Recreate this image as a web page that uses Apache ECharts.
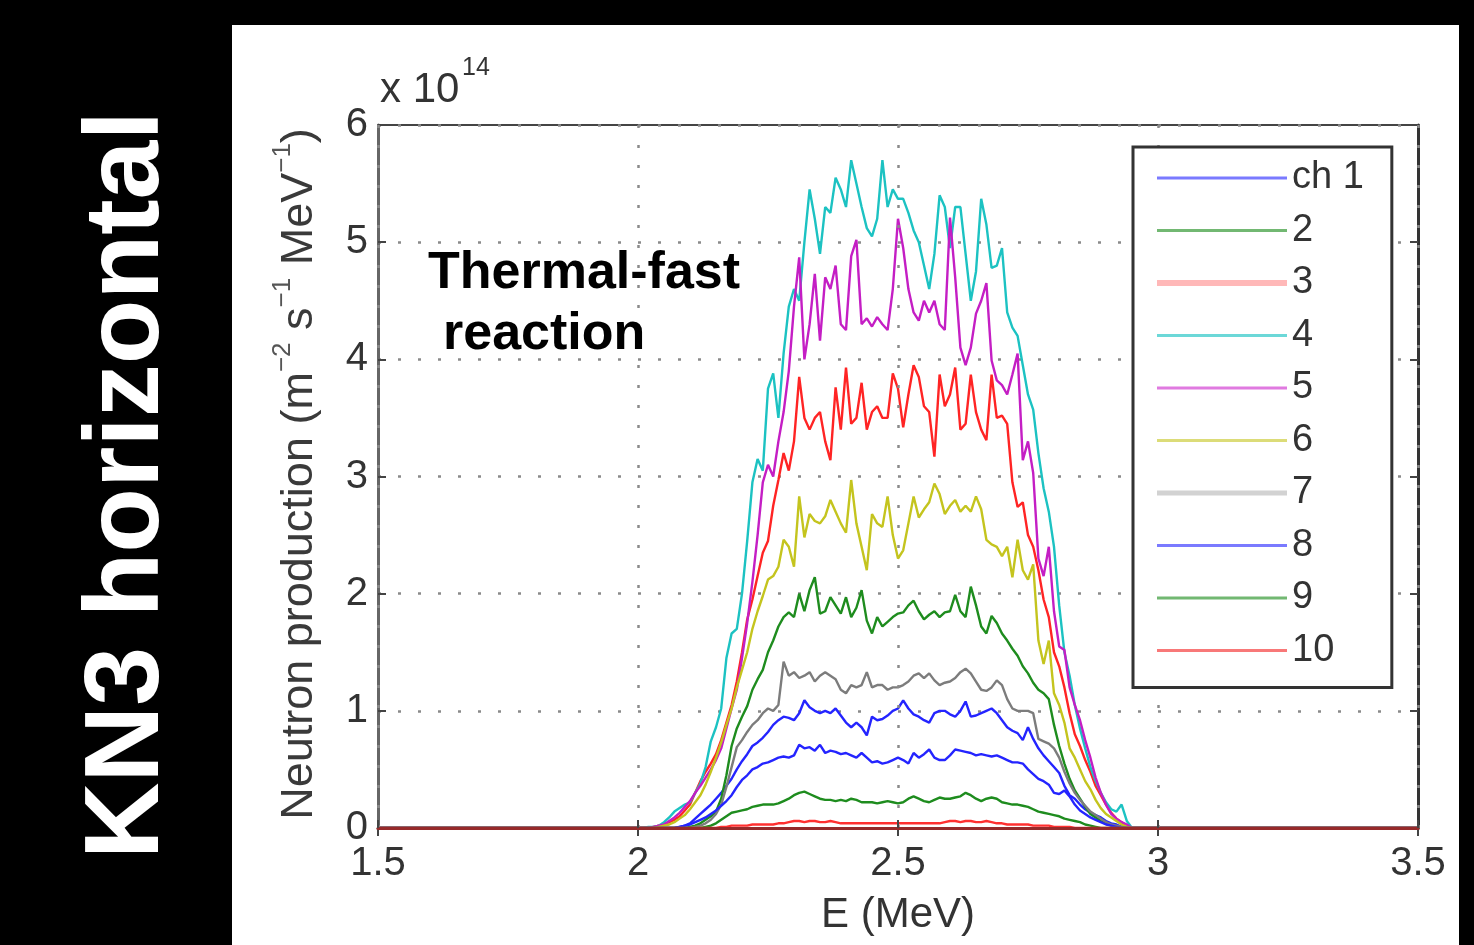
<!DOCTYPE html>
<html>
<head>
<meta charset="utf-8">
<script src="https://cdn.jsdelivr.net/npm/echarts@6/dist/echarts.min.js"></script>
<style>
html,body{margin:0;padding:0;background:#000;}
#chart{width:1474px;height:945px;}
</style>
</head>
<body>
<div id="chart"></div>
<script>
// Energy grid (MeV)
var energies = [1.5,
 2.00,2.01,2.02,2.03,2.04,2.05,2.06,2.07,2.08,2.09,
 2.10,2.11,2.12,2.13,2.14,2.15,2.16,2.17,2.18,2.19,
 2.20,2.21,2.22,2.23,2.24,2.25,2.26,2.27,2.28,2.29,
 2.30,2.31,2.32,2.33,2.34,2.35,2.36,2.37,2.38,2.39,
 2.40,2.41,2.42,2.43,2.44,2.45,2.46,2.47,2.48,2.49,
 2.50,2.51,2.52,2.53,2.54,2.55,2.56,2.57,2.58,2.59,
 2.60,2.61,2.62,2.63,2.64,2.65,2.66,2.67,2.68,2.69,
 2.70,2.71,2.72,2.73,2.74,2.75,2.76,2.77,2.78,2.79,
 2.80,2.81,2.82,2.83,2.84,2.85,2.86,2.87,2.88,2.89,
 2.90,2.91,2.92,2.93,2.94,2.95,
 3.5];

// Neutron production (x 1e14 m^-2 s^-1 MeV^-1), one array per channel
var ch1 = [0,
 0,0,0,0,0,0,0,0,0.01,0.02,
 0.04,0.08,0.12,0.16,0.2,0.25,0.3,0.36,0.42,0.5,
 0.57,0.63,0.7,0.73,0.77,0.82,0.88,0.92,0.95,0.94,
 0.92,0.98,1.09,1.03,1.0,0.98,1.0,0.98,1.02,0.96,
 0.9,0.86,0.9,0.86,0.79,0.95,0.92,0.93,0.96,1.0,
 1.02,1.09,1.02,0.97,0.95,0.92,0.9,0.98,1.0,1.0,
 0.97,0.95,1.0,1.08,0.95,0.96,0.98,1.0,1.02,0.98,
 0.92,0.86,0.83,0.81,0.75,0.86,0.76,0.68,0.62,0.57,
 0.52,0.47,0.36,0.28,0.25,0.2,0.16,0.13,0.11,0.09,
 0.06,0.04,0.03,0.01,0,0,
 0];
var ch2 = [0,
 0,0,0,0,0,0,0,0,0,0,
 0.01,0.02,0.04,0.07,0.1,0.14,0.25,0.45,0.7,0.85,
 0.95,1.04,1.18,1.27,1.35,1.5,1.6,1.72,1.8,1.84,
 1.8,2.0,1.85,2.03,2.14,1.83,1.85,1.97,1.9,1.83,
 1.97,1.8,1.88,2.03,1.77,1.66,1.8,1.72,1.76,1.8,
 1.83,1.84,1.9,1.94,1.85,1.78,1.82,1.85,1.8,1.84,
 1.85,1.99,1.85,1.8,2.06,1.9,1.72,1.66,1.81,1.75,
 1.66,1.6,1.53,1.47,1.38,1.32,1.24,1.18,1.15,1.1,
 0.88,0.7,0.55,0.42,0.32,0.25,0.18,0.12,0.09,0.06,
 0.04,0.02,0.01,0,0,0,
 0];
var ch3 = [0,
 0,0,0,0.01,0.02,0.03,0.05,0.07,0.1,0.15,
 0.2,0.3,0.4,0.48,0.55,0.63,0.75,0.9,1.05,1.25,
 1.5,1.78,1.95,2.15,2.35,2.45,2.75,2.97,3.2,3.05,
 3.3,3.85,3.5,3.4,3.5,3.55,3.3,3.14,3.76,3.4,
 3.93,3.45,3.5,3.8,3.4,3.55,3.6,3.5,3.5,3.88,
 3.75,3.42,3.7,3.95,3.85,3.6,3.55,3.17,3.87,3.6,
 3.7,3.93,3.4,3.45,3.87,3.55,3.4,3.31,3.87,3.5,
 3.52,3.45,2.95,2.74,2.78,2.5,2.4,2.2,1.95,1.8,
 1.5,1.38,1.2,0.98,0.8,0.7,0.58,0.48,0.36,0.28,
 0.2,0.13,0.08,0.05,0.02,0,
 0];
var ch4 = [0,
 0,0,0.01,0.01,0.02,0.05,0.09,0.14,0.17,0.2,
 0.22,0.3,0.38,0.52,0.74,0.86,1.02,1.45,1.66,1.7,
 2.0,2.45,2.95,3.15,3.05,3.75,3.88,3.5,4.05,4.45,
 4.6,4.5,5.0,5.45,5.2,4.9,5.3,5.25,5.55,5.45,
 5.3,5.7,5.5,5.3,5.12,5.05,5.2,5.7,5.3,5.45,
 5.37,5.37,5.25,5.1,5.0,4.8,4.6,4.9,5.4,5.3,
 4.95,5.3,5.3,4.9,4.5,4.75,5.37,5.15,4.78,4.8,
 4.95,4.4,4.27,4.2,3.95,3.7,3.57,3.2,2.9,2.7,
 2.4,1.9,1.5,1.3,1.05,0.85,0.68,0.52,0.4,0.3,
 0.22,0.16,0.14,0.2,0.06,0,
 0];
var ch5 = [0,
 0,0,0,0.01,0.02,0.03,0.06,0.09,0.13,0.18,
 0.23,0.3,0.36,0.43,0.5,0.58,0.68,0.85,1.02,1.18,
 1.45,1.75,2.1,2.5,2.95,3.1,3.0,3.3,3.55,3.9,
 4.45,4.87,4.0,4.3,4.73,4.16,4.7,4.6,4.8,4.3,
 4.25,4.88,5.02,4.3,4.35,4.28,4.36,4.3,4.25,4.6,
 5.2,4.95,4.6,4.4,4.33,4.5,4.4,4.5,4.3,4.25,
 5.21,4.7,4.1,3.95,4.1,4.39,4.5,4.65,3.99,3.82,
 3.78,3.7,3.87,4.05,3.14,3.3,3.03,2.3,2.15,2.4,
 1.85,1.55,1.52,1.2,1.05,0.92,0.75,0.6,0.43,0.3,
 0.2,0.12,0.08,0.05,0.03,0,
 0];
var ch6 = [0,
 0,0,0,0,0.01,0.02,0.03,0.05,0.08,0.11,
 0.16,0.22,0.28,0.37,0.48,0.6,0.73,0.88,1.02,1.2,
 1.35,1.5,1.7,1.85,1.98,2.12,2.15,2.23,2.46,2.4,
 2.23,2.83,2.48,2.68,2.62,2.6,2.66,2.8,2.7,2.6,
 2.52,2.97,2.6,2.4,2.2,2.68,2.6,2.57,2.83,2.5,
 2.3,2.37,2.6,2.83,2.65,2.72,2.78,2.94,2.85,2.68,
 2.75,2.8,2.7,2.75,2.7,2.83,2.72,2.46,2.42,2.4,
 2.32,2.4,2.14,2.46,2.2,2.12,2.25,1.6,1.4,1.6,
 1.15,1.05,0.9,0.68,0.6,0.5,0.4,0.33,0.24,0.17,
 0.12,0.09,0.06,0.03,0.01,0,
 0];
var ch7 = [0,
 0,0,0,0,0,0,0,0,0,0,
 0,0.01,0.02,0.04,0.07,0.12,0.2,0.35,0.52,0.69,
 0.75,0.82,0.88,0.92,0.98,1.02,1.0,1.05,1.42,1.3,
 1.33,1.28,1.3,1.33,1.25,1.3,1.33,1.3,1.27,1.18,
 1.15,1.22,1.2,1.22,1.33,1.2,1.22,1.22,1.18,1.2,
 1.2,1.22,1.25,1.3,1.32,1.28,1.32,1.26,1.22,1.24,
 1.25,1.28,1.33,1.36,1.32,1.25,1.18,1.17,1.2,1.26,
 1.22,1.1,1.02,1.0,1.0,1.0,0.98,0.76,0.74,0.72,
 0.68,0.6,0.48,0.38,0.3,0.24,0.19,0.14,0.11,0.08,
 0.05,0.03,0.02,0.01,0,0,
 0];
var ch8 = [0,
 0,0,0,0,0,0,0,0,0.01,0.02,
 0.03,0.05,0.07,0.09,0.12,0.15,0.19,0.23,0.28,0.35,
 0.41,0.45,0.5,0.52,0.55,0.56,0.58,0.6,0.61,0.6,
 0.62,0.71,0.68,0.69,0.66,0.71,0.64,0.66,0.65,0.63,
 0.64,0.62,0.6,0.64,0.6,0.56,0.57,0.55,0.56,0.58,
 0.6,0.58,0.55,0.64,0.6,0.63,0.67,0.6,0.58,0.58,
 0.62,0.67,0.66,0.65,0.64,0.62,0.63,0.62,0.61,0.62,
 0.6,0.58,0.56,0.56,0.55,0.5,0.46,0.42,0.4,0.37,
 0.3,0.29,0.32,0.27,0.2,0.15,0.12,0.09,0.07,0.05,
 0.03,0.02,0.01,0,0,0,
 0];
var ch9 = [0,
 0,0,0,0,0,0,0,0,0,0,
 0,0,0,0.01,0.02,0.04,0.07,0.1,0.13,0.14,
 0.15,0.16,0.18,0.19,0.2,0.2,0.2,0.21,0.23,0.25,
 0.28,0.3,0.31,0.29,0.27,0.25,0.24,0.24,0.23,0.24,
 0.23,0.25,0.24,0.22,0.22,0.22,0.21,0.22,0.23,0.22,
 0.21,0.22,0.25,0.27,0.25,0.23,0.22,0.24,0.26,0.25,
 0.25,0.26,0.27,0.3,0.28,0.25,0.23,0.25,0.26,0.25,
 0.22,0.21,0.2,0.2,0.19,0.18,0.16,0.14,0.13,0.12,
 0.11,0.1,0.08,0.07,0.06,0.05,0.03,0.02,0.01,0,
 0,0,0,0,0,0,
 0];
var ch10 = [0,
 0,0,0,0,0,0,0,0,0,0,
 0,0,0,0,0,0,0.01,0.01,0.02,0.02,
 0.02,0.02,0.03,0.03,0.03,0.03,0.03,0.04,0.04,0.05,
 0.06,0.06,0.05,0.06,0.06,0.05,0.05,0.06,0.05,0.04,
 0.04,0.04,0.04,0.04,0.04,0.04,0.04,0.04,0.04,0.04,
 0.04,0.04,0.04,0.04,0.04,0.04,0.04,0.04,0.04,0.05,
 0.06,0.06,0.05,0.06,0.06,0.05,0.05,0.06,0.05,0.04,
 0.04,0.03,0.03,0.03,0.03,0.03,0.02,0.02,0.02,0.02,
 0.01,0.01,0.01,0.01,0,0,0,0,0,0,
 0,0,0,0,0,0,
 0];

var channelNames = ['ch 1','2','3','4','5','6','7','8','9','10'];
var channelData = [ch1,ch2,ch3,ch4,ch5,ch6,ch7,ch8,ch9,ch10];
var lineColors = ['#2424ff','#1e8c1e','#ff2424','#1cc2c2','#c41ec4','#c4c41e','#7c7c7c','#2424ff','#1e8c1e','#ff3030'];
var legendColors = ['#7a7aff','#72b872','#ffb8b8','#6cd8d8','#e07ae0','#dcdc78','#d2d2d2','#7a7aff','#72b872','#f87878'];
var legendWidths = [3,3,6,3,3,3,5,3,3,3];
var xTicks = {min:1.5, max:3.5, step:0.5};
var yTicks = {min:0, max:6, step:1};

var FONT = 'Liberation Sans, Arial, sans-serif';

var series = channelNames.map(function(n, k){
  return {
    name: n, type: 'line', symbol: 'none', showSymbol: false, animation: false,
    lineStyle: {color: lineColors[k], width: 2.4},
    itemStyle: {color: lineColors[k]},
    data: energies.map(function(e, i){ return [e, channelData[k][i]]; }),
    z: 2
  };
});

var dotted = {color: '#8a8a8a', width: 2.5, type: [3, 17]};

var chart = echarts.init(document.getElementById('chart'), null, {renderer: 'canvas'});
chart.setOption({
  backgroundColor: '#000',
  animation: false,
  graphic: [
    {type: 'rect', z: -10, shape: {x: 232, y: 25, width: 1227, height: 920}, style: {fill: '#fff'}},
    {type: 'text', z: 10, x: 129, y: 485, rotation: Math.PI / 2,
     style: {text: 'KN3 horizontal', fill: '#fff', fontSize: 106, fontWeight: 'bold', fontFamily: FONT, align: 'center', verticalAlign: 'middle'}},
    {type: 'text', z: 10, x: 296, y: 474, rotation: Math.PI / 2,
     style: {
       text: '{n|Neutron production (m}{s|\u22122}{n| s}{s|\u22121}{n| MeV}{s|\u22121}{n|)}',
       align: 'center', verticalAlign: 'middle',
       rich: {
         n: {fontSize: 45, fontFamily: FONT, fill: '#3a3a3a', lineHeight: 52, verticalAlign: 'bottom'},
         s: {fontSize: 26, fontFamily: FONT, fill: '#555', lineHeight: 52, verticalAlign: 'top'}
       }
     }},
    {type: 'text', z: 10, x: 380, y: 90,
     style: {text: 'x 10', fill: '#333', fontSize: 42, fontFamily: FONT, align: 'left', verticalAlign: 'middle'}},
    {type: 'text', z: 10, x: 462, y: 68,
     style: {text: '14', fill: '#333', fontSize: 25, fontFamily: FONT, align: 'left', verticalAlign: 'middle'}},
    {type: 'text', z: 100, x: 428, y: 274,
     style: {text: 'Thermal-fast', fill: '#000', fontSize: 52, fontWeight: 'bold', fontFamily: FONT, align: 'left', verticalAlign: 'middle'}},
    {type: 'text', z: 100, x: 443, y: 335,
     style: {text: 'reaction', fill: '#000', fontSize: 52, fontWeight: 'bold', fontFamily: FONT, align: 'left', verticalAlign: 'middle'}}
  ],
  grid: {left: 378, right: 56, top: 125, bottom: 117, show: true, borderColor: '#444', borderWidth: 2, backgroundColor: 'transparent'},
  legend: {
    orient: 'vertical', left: 1133, top: 147, z: 30,
    padding: [11, 28, 17, 21],
    itemWidth: 130, itemHeight: 14, itemGap: 12.5, itemTextGap: 18,
    backgroundColor: '#fff', borderColor: '#333', borderWidth: 3, borderRadius: 0,
    textStyle: {fontSize: 38, fontFamily: FONT, color: '#333', lineHeight: 40},
    selectedMode: false,
    data: channelNames.map(function(n, k){
      return {name: n,
        lineStyle: {color: legendColors[k], width: legendWidths[k]},
        itemStyle: {color: 'rgba(0,0,0,0)', borderWidth: 0, opacity: 0}};
    })
  },
  xAxis: [{
    type: 'value', min: xTicks.min, max: xTicks.max, interval: xTicks.step, z: 5,
    name: 'E (MeV)', nameLocation: 'middle', nameGap: 66,
    nameTextStyle: {fontSize: 42, fontFamily: FONT, color: '#333'},
    axisLine: {show: true, onZero: false, lineStyle: {color: '#962a2a', width: 3}},
    axisTick: {show: true, inside: true, length: 8, lineStyle: {color: '#444', width: 2}},
    axisLabel: {fontSize: 40, fontFamily: FONT, color: '#333', margin: 16},
    splitLine: {show: true, lineStyle: dotted}
  }, {
    type: 'value', position: 'top', min: xTicks.min, max: xTicks.max, interval: xTicks.step,
    axisLine: {show: true, lineStyle: {color: '#808080', width: 3}},
    axisTick: {show: true, inside: true, length: 8, lineStyle: {color: '#444', width: 2}},
    axisLabel: {show: false}, splitLine: {show: false}
  }],
  yAxis: [{
    type: 'value', min: yTicks.min, max: yTicks.max, interval: yTicks.step,
    axisLine: {show: true, onZero: false, lineStyle: {color: '#666', width: 3}},
    axisTick: {show: true, inside: true, length: 8, lineStyle: {color: '#444', width: 2}},
    axisLabel: {fontSize: 40, fontFamily: FONT, color: '#333', margin: 10},
    splitLine: {show: true, lineStyle: dotted}
  }, {
    type: 'value', position: 'right', min: yTicks.min, max: yTicks.max, interval: yTicks.step,
    axisLine: {show: true, lineStyle: {color: '#333', width: 3}},
    axisTick: {show: true, inside: true, length: 8, lineStyle: {color: '#444', width: 2}},
    axisLabel: {show: false}, splitLine: {show: false}
  }],
  series: series
});
</script>
</body>
</html>
